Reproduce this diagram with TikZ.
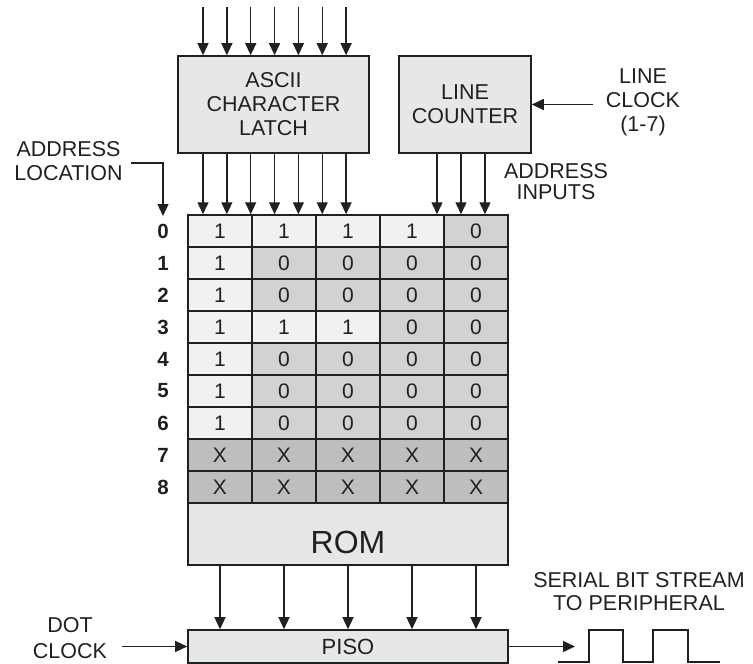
\documentclass[tikz,border=0pt]{standalone}
\usepackage{fontspec}
\setmainfont{Liberation Sans}
\usetikzlibrary{arrows.meta,calc}
\definecolor{ink}{HTML}{231F20}
\definecolor{boxfill}{HTML}{E6E7E8}
\definecolor{cellhi}{HTML}{F0F1F2}
\definecolor{cellmid}{HTML}{D1D2D4}
\definecolor{celldark}{HTML}{BCBEC0}
\begin{document}
\begin{tikzpicture}[x=1pt,y=-1pt,
  blk/.style={draw=ink,line width=1.6pt,fill=boxfill,inner sep=0pt,align=center,
    font=\fontsize{21.5}{24}\selectfont,text=ink},
  cell/.style={draw=ink,line width=1.5pt,minimum width=64pt,minimum height=32pt,
    inner sep=0pt,font=\fontsize{21}{22}\selectfont,text=ink},
  arr/.style={draw=ink,line width=1.4pt,-{Triangle[length=12pt,width=11pt]}},
  lbl/.style={align=center,font=\fontsize{21.5}{24}\selectfont,text=ink,inner sep=0pt},
  rowlbl/.style={font=\fontsize{20.5}{22}\selectfont\bfseries,text=ink,inner sep=0pt},
  ]
\useasboundingbox (0,0) rectangle (753,664);

% top blocks
\node[blk,minimum width=191pt,minimum height=97pt] (latch) at (273.5,104.5)
  {ASCII\\CHARACTER\\LATCH};
\node[blk,minimum width=132pt,minimum height=97pt] (lcnt) at (465,104.5)
  {LINE\\COUNTER};

% ROM contents: rows of value/fill pairs
\foreach \r/\items in {
  0/{1/cellhi,1/cellhi,1/cellhi,1/cellhi,0/cellmid},
  1/{1/cellhi,0/cellmid,0/cellmid,0/cellmid,0/cellmid},
  2/{1/cellhi,0/cellmid,0/cellmid,0/cellmid,0/cellmid},
  3/{1/cellhi,1/cellhi,1/cellhi,0/cellmid,0/cellmid},
  4/{1/cellhi,0/cellmid,0/cellmid,0/cellmid,0/cellmid},
  5/{1/cellhi,0/cellmid,0/cellmid,0/cellmid,0/cellmid},
  6/{1/cellhi,0/cellmid,0/cellmid,0/cellmid,0/cellmid},
  7/{X/celldark,X/celldark,X/celldark,X/celldark,X/celldark},
  8/{X/celldark,X/celldark,X/celldark,X/celldark,X/celldark}}{
  \foreach \v/\f [count=\k from 0] in \items
    \node[cell,fill=\f] (c\r\k) at (220+64*\k,231+32*\r) {\v};
  \node[rowlbl] (r\r) at (163,231+32*\r) {\r};
}

% ROM body and parallel-to-serial register
\node[blk,minimum width=320pt,minimum height=62pt] (rom) at (348,534) {};
\node[font=\fontsize{32}{36}\selectfont,text=ink,inner sep=0pt] (romtxt) at (348,542) {ROM};
\node[blk,minimum width=320pt,minimum height=33pt,font=\fontsize{22}{24}\selectfont]
  (piso) at (348,646.5) {PISO};

% character code into the latch, and latch to ROM
\foreach \i in {0,...,6}{
  \coordinate (in\i) at (203+23.85*\i,7);
  \draw[arr] (in\i) -- (in\i |- latch.north);
  \coordinate (lo\i) at (203+23.85*\i,0);
  \draw[arr] (lo\i |- latch.south) -- (lo\i |- c00.north);
}

% line counter to ROM
\foreach \x [count=\i] in {437,461,485}{
  \coordinate (lc\i) at (\x,0);
  \draw[arr] (lc\i |- lcnt.south) -- (lc\i |- c04.north);
}

% ROM outputs to PISO
\foreach \k in {0,...,4}{
  \draw[arr] (c8\k |- rom.south) -- (c8\k |- piso.north);
}

% labels
\node[lbl] (addrloc) at (68.5,161.5) {ADDRESS\\LOCATION};
\coordinate (alstart) at (131,163);
\coordinate (alend) at (163,216);
\draw[arr] (alstart) -| (alend);

\node[lbl] (lclk) at (643,102.5) {LINE\\CLOCK\\(1-7)};
\coordinate (lclkstart) at (593,104.5);
\draw[arr] (lclkstart) -- (lcnt.east);

\node[lbl,font=\fontsize{21.5}{21}\selectfont] (addrin) at (556,182) {ADDRESS\\INPUTS};

\node[lbl,font=\fontsize{21.5}{26}\selectfont] (dotclk) at (70,638) {DOT\\CLOCK};
\coordinate (dcstart) at (122,646.5);
\draw[arr] (dcstart) -- (piso.west);

\node[lbl,font=\fontsize{21.5}{23}\selectfont] (serial) at (639,591.5)
  {SERIAL BIT STREAM\\TO PERIPHERAL};
\coordinate (outend) at (575,646.5);
\draw[arr] (piso.east) -- (outend);

% serial bit stream waveform
\draw[ink,line width=1.4pt] (558,662) -- (589,662) -- (589,630) -- (623,630)
  -- (623,662) -- (653,662) -- (653,630) -- (688,630) -- (688,662) -- (720,662);
\end{tikzpicture}
\end{document}
